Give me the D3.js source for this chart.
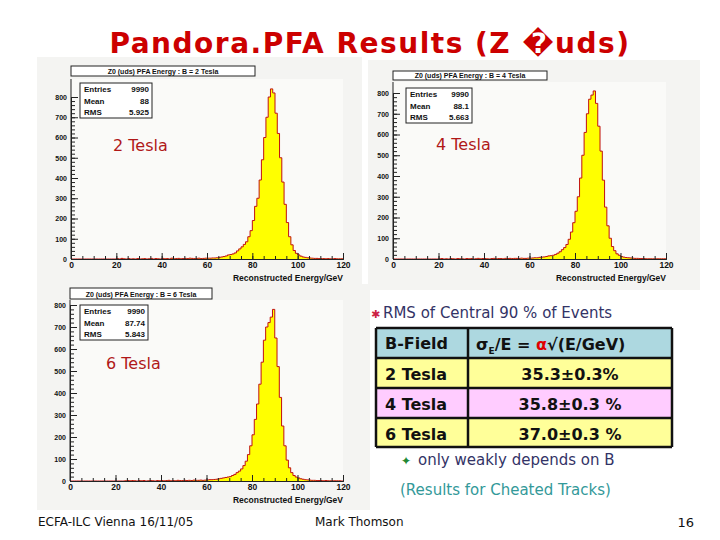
<!DOCTYPE html>
<html><head><meta charset="utf-8">
<script src="https://cdn.jsdelivr.net/npm/d3@7"></script>
<style>body{margin:0;background:#fff}svg{display:block}</style>
</head><body><svg id="slide" width="720" height="540"></svg>
<script>
// histogram contents, 1 GeV bins from 0 to 120
const lowTail2 = [0,0,0,0,0,0,0,0,0,0,0,0,0,0,0,0,0,0,0,0, 2,0,3,1,0,2,0,1,0,2, 0,1,2,0,1,3,0,2,1,0, 3,1,2,0,4,1,2,3,1,2, 3,2,4,3,2,3,4,2,3,4];
const peak2 = [4,4,5,5,6,8,10,12,15,20, 22,25,30,40,50,60,72,85,110,140, 190,260,300,390,490,600,700,800,840,820, 720,620,500,380,270,180,110,70,42,28, 20,14,10,8,6,5,4,3,3,2, 2,2,1,2,1,1,2,1,1,1];
const lowTail4 = [0,0,0,0,0,0,0,0,0,0,0,0,0,0,0,0,0,0,0,0, 1,2,0,1,0,2,1,0,2,1, 1,0,2,1,2,0,1,3,1,2, 2,1,0,2,3,1,2,2,1,3, 2,3,2,3,3,2,4,3,3,4];
const peak4 = [4,5,6,6,8,9,10,12,15,16, 18,22,28,35,45,55,70,95,130,175, 230,300,390,500,610,700,770,790,810,750, 640,520,380,250,160,100,60,40,25,18, 12,9,7,6,5,4,3,3,2,2, 2,1,1,1,1,1,1,1,1,1];
const lowTail6 = [0,0,0,0,0,0,0,0,0,0,0,0,0,0,0,0,0,0,0,0, 0,0,0,0,1,2,1,2,1,0, 2,1,2,0,1,2,1,0,2,1, 2,1,2,3,1,2,1,3,2,2, 3,2,3,2,4,3,3,4,3,4];
const peak6 = [5,6,6,7,8,10,12,14,16,18, 20,25,30,38,45,55,70,90,120,160, 210,280,350,440,540,640,700,720,745,780, 650,520,380,250,160,95,60,38,25,18, 14,10,8,6,5,4,3,3,2,2, 2,1,2,1,1,1,1,1,1,0];

const xTicks = [0, 20, 40, 60, 80, 100, 120];
const yTicks = [0, 100, 200, 300, 400, 500, 600, 700, 800];
const statsLabels = ["Entries", "Mean", "RMS"];

const panels = [
  {title: "Z0 (uds) PFA Energy : B = 2 Tesla", stats: ["9990", "88", "5.925"], counts: lowTail2.concat(peak2), label: "2 Tesla",
   bg: [37, 57, 325, 228], x0: 71, x1: 343, y0: 259, y1: 97, top: 79, tb: [71, 66, 184, 10], sb: [80, 83, 72, 35], lab: [113, 151]},
  {title: "Z0 (uds) PFA Energy : B = 4 Tesla", stats: ["9990", "88.1", "5.663"], counts: lowTail4.concat(peak4), label: "4 Tesla",
   bg: [368, 60, 332, 230], x0: 393, x1: 666, y0: 259, y1: 93, top: 82, tb: [393, 71, 154, 9], sb: [406, 88, 66, 35], lab: [436, 150]},
  {title: "Z0 (uds) PFA Energy : B = 6 Tesla", stats: ["9990", "87.74", "5.843"], counts: lowTail6.concat(peak6), label: "6 Tesla",
   bg: [37, 284, 333, 226], x0: 70, x1: 343, y0: 481, y1: 305, top: 300, tb: [70, 288, 142, 11], sb: [80, 305, 68, 35], lab: [106, 369]}
];

const tableRows = ["2 Tesla", "4 Tesla", "6 Tesla"];
const tableVals = ["35.3\u00B10.3%", "35.8\u00B10.3 %", "37.0\u00B10.3 %"];
const rowFill = ["#ffff99", "#ffccff", "#ffff99"];

const svg = d3.select("#slide");

svg.append("text").attr("x", 370).attr("y", 53).attr("text-anchor", "middle")
  .attr("font-family", "DejaVu Sans").attr("font-weight", "bold").attr("font-size", 28).attr("letter-spacing", 1.5)
  .attr("fill", "#cc0000").text("Pandora.PFA Results (Z \uFFFDuds)");

function drawPanel(p) {
  const g = svg.append("g");
  g.append("rect").attr("x", p.bg[0]).attr("y", p.bg[1]).attr("width", p.bg[2]).attr("height", p.bg[3]).attr("fill", "#f4f4f2");
  const x = d3.scaleLinear().domain([0, 120]).range([p.x0, p.x1]);
  const y = d3.scaleLinear().domain([0, 800]).range([p.y0, p.y1]);
  g.append("rect").attr("x", p.x0).attr("y", p.top).attr("width", p.x1 - p.x0).attr("height", p.y0 - p.top).attr("fill", "#fafaf8");

  const area = d3.area().curve(d3.curveStepAfter).x((d, i) => x(i)).y0(p.y0).y1(d => y(d));
  const pts = p.counts.concat([p.counts[p.counts.length - 1]]);
  g.append("path").attr("d", area(pts)).attr("fill", "#ffff00");
  const line = d3.line().curve(d3.curveStepAfter).x((d, i) => x(i)).y(d => y(d));
  g.append("path").attr("d", line(pts)).attr("fill", "none").attr("stroke", "#c01010").attr("stroke-width", 1);

  const xa = g.append("g").attr("transform", `translate(0,${p.y0})`)
    .call(d3.axisBottom(x).tickValues(xTicks).tickSize(-6).tickPadding(3).tickFormat(d3.format("d")));
  xa.append("g").call(d3.axisBottom(x).ticks(24).tickSize(-3).tickFormat(""));
  const ya = g.append("g").attr("transform", `translate(${p.x0},0)`)
    .call(d3.axisLeft(y).tickValues(yTicks).tickSize(-7).tickPadding(4).tickFormat(d3.format("d")));
  ya.append("g").call(d3.axisLeft(y).ticks(40).tickSize(-4).tickFormat(""));
  g.selectAll(".domain").attr("stroke", "#222");
  g.selectAll(".tick line").attr("stroke", "#222");
  g.selectAll(".tick text").attr("font-family", "Liberation Sans").attr("font-weight", "bold").attr("font-size", 8.5).attr("fill", "#111");
  ya.selectAll(".tick text").attr("font-size", 7);
  g.append("line").attr("x1", p.x0).attr("x2", p.x0).attr("y1", p.top).attr("y2", p.y0).attr("stroke", "#222");

  g.append("text").attr("x", p.x1).attr("y", p.y0 + 22).attr("text-anchor", "end")
    .attr("font-family", "Liberation Sans").attr("font-weight", "bold").attr("font-size", 8.5).attr("fill", "#111")
    .text("Reconstructed Energy/GeV");

  g.append("rect").attr("x", p.tb[0]).attr("y", p.tb[1]).attr("width", p.tb[2]).attr("height", p.tb[3])
    .attr("fill", "#fff").attr("stroke", "#222");
  g.append("text").attr("x", p.tb[0] + p.tb[2] / 2).attr("y", p.tb[1] + p.tb[3] - 2).attr("text-anchor", "middle")
    .attr("font-family", "Liberation Sans").attr("font-weight", "bold").attr("font-size", 7).attr("fill", "#111").text(p.title);

  g.append("rect").attr("x", p.sb[0]).attr("y", p.sb[1]).attr("width", p.sb[2]).attr("height", p.sb[3])
    .attr("fill", "#fff").attr("stroke", "#222");
  statsLabels.forEach((s, i) => {
    const ty = p.sb[1] + 9 + i * 11.5;
    g.append("text").attr("x", p.sb[0] + 4).attr("y", ty).attr("font-family", "Liberation Sans").attr("font-weight", "bold")
      .attr("font-size", 8).attr("fill", "#111").text(s);
    g.append("text").attr("x", p.sb[0] + p.sb[2] - 3).attr("y", ty).attr("text-anchor", "end").attr("font-family", "Liberation Sans")
      .attr("font-weight", "bold").attr("font-size", 8).attr("fill", "#111").text(p.stats[i]);
  });

  g.append("text").attr("x", p.lab[0]).attr("y", p.lab[1]).attr("font-family", "DejaVu Sans").attr("font-size", 16)
    .attr("fill", "#b01818").text(p.label);
}
panels.forEach(drawPanel);

// table
const t = svg.append("g");
t.append("text").attr("x", 371).attr("y", 318).attr("font-family", "DejaVu Sans").attr("font-size", 11).attr("fill", "#cc2244").text("\u2731");
t.append("text").attr("x", 383).attr("y", 318).attr("font-family", "DejaVu Sans").attr("font-size", 15).attr("fill", "#333366").text("RMS of Central 90 % of Events");
const tx0 = 376, tx1 = 468, tx2 = 672;
const rowY = [328, 358, 388, 418, 447];
t.append("rect").attr("x", tx0).attr("y", rowY[0]).attr("width", tx2 - tx0).attr("height", rowY[1] - rowY[0]).attr("fill", "#add8e0");
tableRows.forEach((r, i) => {
  t.append("rect").attr("x", tx0).attr("y", rowY[i + 1]).attr("width", tx2 - tx0).attr("height", rowY[i + 2] - rowY[i + 1]).attr("fill", rowFill[i]);
  t.append("text").attr("x", tx0 + 9).attr("y", rowY[i + 1] + 22).attr("font-family", "DejaVu Sans").attr("font-weight", "bold")
    .attr("font-size", 16).attr("fill", "#111").text(r);
  t.append("text").attr("x", (tx1 + tx2) / 2).attr("y", rowY[i + 1] + 22).attr("text-anchor", "middle").attr("font-family", "DejaVu Sans")
    .attr("font-weight", "bold").attr("font-size", 16).attr("fill", "#111").text(tableVals[i]);
});
t.append("text").attr("x", tx0 + 9).attr("y", rowY[0] + 21).attr("font-family", "DejaVu Sans").attr("font-weight", "bold")
  .attr("font-size", 16).attr("fill", "#111").text("B-Field");
const hdr = t.append("text").attr("x", 476).attr("y", rowY[0] + 22).attr("font-family", "DejaVu Sans").attr("font-weight", "bold")
  .attr("font-size", 16).attr("fill", "#111");
hdr.append("tspan").text("\u03C3");
hdr.append("tspan").attr("font-size", 9).attr("dy", 4).text("E");
hdr.append("tspan").attr("dy", -4).text("/E = ");
hdr.append("tspan").attr("fill", "#e00000").text("\u03B1");
hdr.append("tspan").text("\u221A(E/GeV)");
rowY.forEach(yy => t.append("line").attr("x1", tx0).attr("x2", tx2).attr("y1", yy).attr("y2", yy).attr("stroke", "#111").attr("stroke-width", 2.5));
[tx0, tx1, tx2].forEach(xx => t.append("line").attr("x1", xx).attr("x2", xx).attr("y1", rowY[0]).attr("y2", rowY[4]).attr("stroke", "#111").attr("stroke-width", 2.5));

t.append("text").attr("x", 401).attr("y", 465).attr("font-family", "DejaVu Sans").attr("font-size", 12).attr("fill", "#228833").text("\u2726");
t.append("text").attr("x", 418).attr("y", 465).attr("font-family", "DejaVu Sans").attr("font-size", 15).attr("fill", "#333366").text("only weakly depends on B");
t.append("text").attr("x", 400).attr("y", 495).attr("font-family", "DejaVu Sans").attr("font-size", 15).attr("fill", "#339999").text("(Results for Cheated Tracks)");

// footer
svg.append("text").attr("x", 38).attr("y", 526).attr("font-family", "DejaVu Sans").attr("font-size", 12).attr("fill", "#111").text("ECFA-ILC Vienna 16/11/05");
svg.append("text").attr("x", 315).attr("y", 526).attr("font-family", "DejaVu Sans").attr("font-size", 12).attr("fill", "#111").text("Mark Thomson");
svg.append("text").attr("x", 694).attr("y", 527).attr("text-anchor", "end").attr("font-family", "DejaVu Sans").attr("font-size", 13).attr("fill", "#111").text("16");
</script></body></html>
